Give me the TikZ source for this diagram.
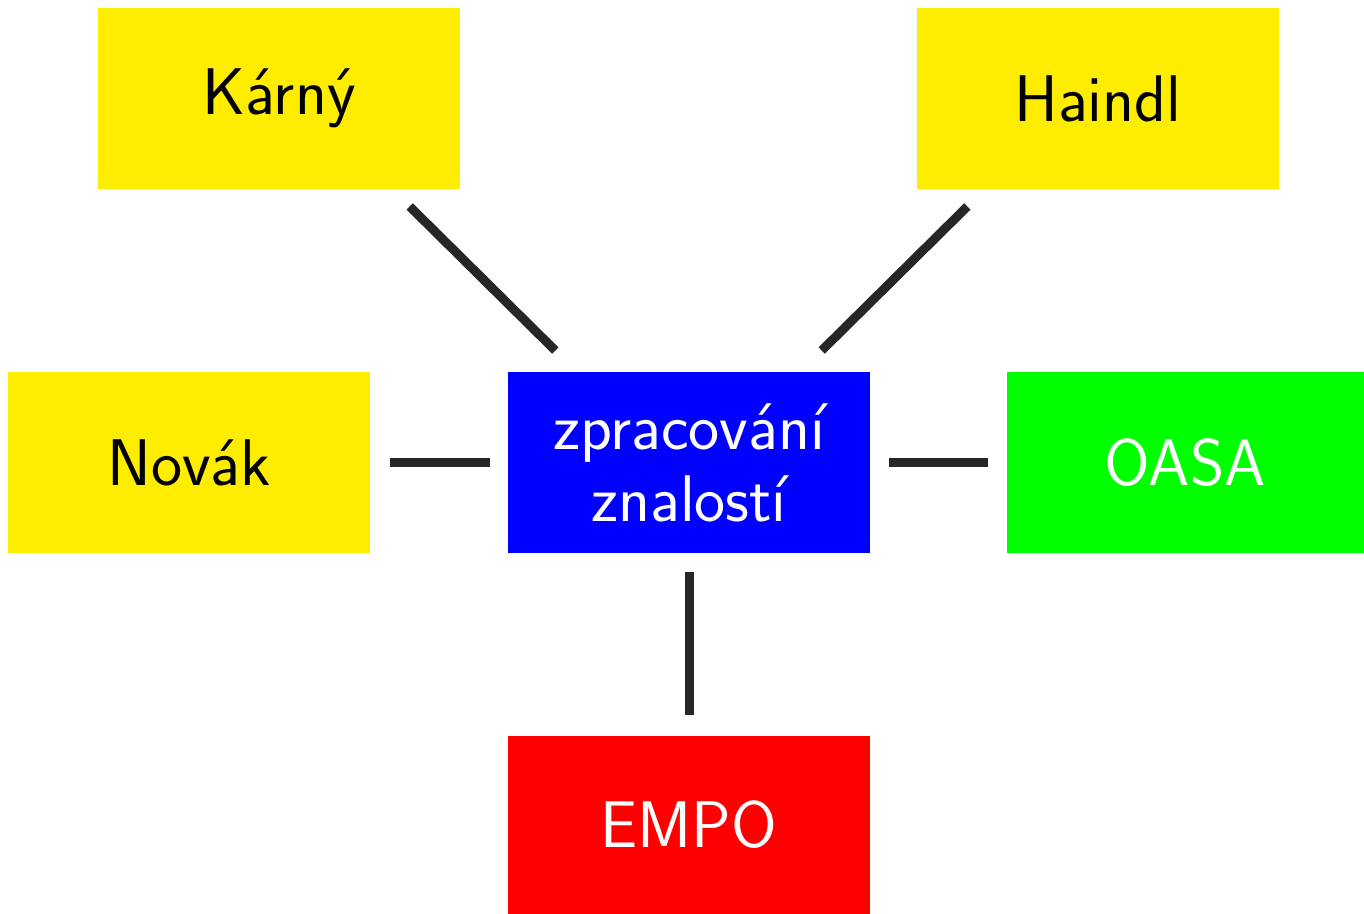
\documentclass[tikz,border=0pt]{standalone}
\usepackage{tikz}
\usepackage{xcolor}
\usetikzlibrary{positioning}

\definecolor{boxyellow}{RGB}{255,237,0}

\begin{document}
\begin{tikzpicture}[
            node distance=91pt and 68.5pt,
            box/.style={rectangle, minimum width=181pt, minimum height=90.5pt,
                    align=center, inner sep=0pt, font=\fontsize{33}{36}\selectfont\sffamily},
            ybox/.style={box, fill=boxyellow, text=black},
            link/.style={line width=4.5pt, black!85},
            ]

            % bounding box as in the reference
            \useasboundingbox (0,0) rectangle (682pt,-457pt);

            \node[box, fill=blue, text=white] (proc) at (344.5pt,-231.25pt) {zpracování\\znalostí};

            \node[ybox, above left=91pt and 23.5pt of proc] (karny) {Kárný};
            \node[ybox, above right=91pt and 23pt of proc] (haindl) {Haindl};
            \node[ybox, left=of proc] (novak) {Novák};
            \node[box, fill=green, text=white, minimum width=178.5pt, right=68pt of proc] (oasa) {OASA};
            \node[box, fill=red, text=white, minimum height=89pt, below=of proc] (empo) {EMPO};

            \draw[link, shorten <=12pt, shorten >=15pt] ([xshift=-34pt]karny.south east) -- ([xshift=34.5pt]proc.north west);
            \draw[link, shorten <=12pt, shorten >=15pt] ([xshift=34pt]haindl.south west) -- ([xshift=-35pt]proc.north east);
            \draw[link, shorten <=9.5pt, shorten >=9pt] (novak) -- (proc);
            \draw[link, shorten <=9.5pt, shorten >=9pt] (proc) -- (oasa);
            \draw[link, shorten <=9.5pt, shorten >=10pt] (proc) -- (empo);

        \end{tikzpicture}
\end{document}
